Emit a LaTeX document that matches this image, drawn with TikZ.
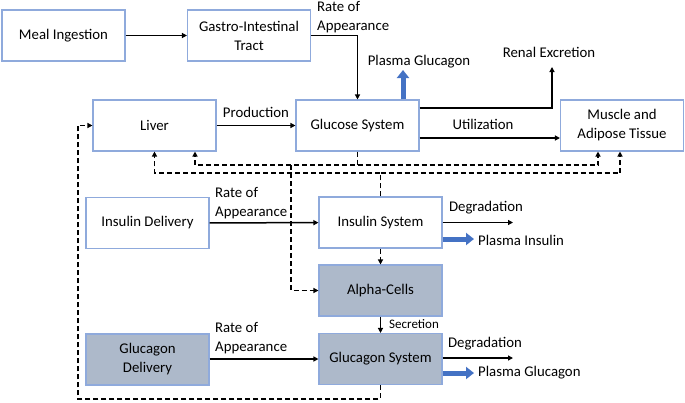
\documentclass[tikz,border=0pt]{standalone}
\usepackage{fontspec}
\setmainfont{Carlito}
\usepackage{tikz}
\usetikzlibrary{arrows.meta}
\definecolor{boxline}{HTML}{8FAADC}
\definecolor{boxgray}{HTML}{ADB9CA}
\definecolor{plasmablue}{HTML}{4472C4}
\tikzstyle{block}=[draw=boxline, line width=1.1pt, fill=white, minimum width=123pt, minimum height=51pt, inner sep=0pt, align=center, font=\fontsize{14.8}{19}\selectfont]
\tikzstyle{gblock}=[block, fill=boxgray]
\tikzstyle{lbl}=[inner sep=0pt, align=left, font=\fontsize{14.8}{19}\selectfont]
\tikzstyle{flow}=[line width=1.5pt, -{Triangle[length=5pt,width=5pt]}]
\tikzstyle{fb}=[flow, dash pattern=on 5pt off 3pt]
\tikzstyle{plasma}=[draw=plasmablue, line width=5pt, -{Triangle[length=8pt,width=12pt]}]

\begin{document}
\begin{tikzpicture}[x=1pt, y=-1pt]
        \useasboundingbox (0,0) rectangle (685,402);
        \node[block]  (meal)    at (63.5, 35.5)  {Meal Ingestion};
        \node[block]  (gi)      at (249, 35.5)   {Gastro-Intestinal\\Tract};
        \node[block]  (liver)   at (154.5, 125.5) {Liver};
        \node[block]  (glucose) at (357.5, 125.5) {Glucose System};
        \node[block]  (muscle)  at (622, 125.5)  {Muscle and\\Adipose Tissue};
        \node[block]  (insdel)  at (147.5, 223)  {Insulin Delivery};
        \node[block]  (inssys)  at (380.5, 222.5) {Insulin System};
        \node[gblock] (alpha)   at (380.5, 290.5) {Alpha-Cells};
        \node[gblock] (glcdel)  at (147.5, 359.5) {Glucagon\\Delivery};
        \node[gblock] (glcsys)  at (380.5, 359)  {Glucagon System};
        \coordinate (pgluc) at (403, 70);
        \coordinate (renal) at (552, 67);
        \coordinate (insdeg) at (513, 222.5);
        \coordinate (insplasma) at (474, 239);
        \coordinate (glcdeg) at (513, 358);
        \coordinate (glcplasma) at (474, 373);
        \coordinate (gdn) at (357.5, 165);
        \coordinate (adn) at (291, 165);
        \coordinate (iup) at (380.5, 173);
        \coordinate (loop) at (78, 399);
        \draw[flow] (meal) -- (gi);
        \draw[flow] (gi.east) -| (glucose.north);
        \draw[flow] (liver) -- (glucose);
        \draw[flow] ([yshift=17.5pt]glucose.east) -| (renal);
        \draw[flow] ([yshift=-12.5pt]glucose.east) -- ([yshift=-12.5pt]muscle.west);
        \draw[plasma] (glucose.north -| pgluc) -- (pgluc);
        \draw[flow] (insdel) -- (inssys);
        \draw[flow] (inssys.east) -- (insdeg);
        \draw[plasma] (inssys.east |- insplasma) -- (insplasma);
        \draw[flow] (alpha) -- (glcsys);
        \draw[flow] (glcdel.east |- glcsys.west) -- (glcsys.west);
        \draw[flow] (glcsys.east |- glcdeg) -- (glcdeg);
        \draw[plasma] (glcsys.east |- glcplasma) -- (glcplasma);
        \draw[fb] (glucose.south) -- (gdn) -| ([xshift=40.5pt]liver.south);
        \draw[fb] (gdn) -| ([xshift=-24pt]muscle.south);
        \draw[fb] (adn) |- (alpha.west);
        \draw[fb] (inssys.north) -- (iup) -| (liver.south);
        \draw[fb] (iup) -| ([xshift=-2pt]muscle.south);
        \draw[fb] (inssys) -- (alpha);
        \draw[fb] (glcsys.south) |- (loop) |- (liver.west);
        \node[lbl, anchor=west] (lra)  at (317, 17)   {Rate of\\Appearance};
        \node[lbl] (lprod)  at (256, 112)  {Production};
        \node[lbl] (lpg)    at (419, 62)   {Plasma Glucagon};
        \node[lbl] (lrenal) at (549, 52)   {Renal Excretion};
        \node[lbl] (lutil)  at (483, 124)  {Utilization};
        \node[lbl, anchor=west] (lira) at (215, 203) {Rate of\\Appearance};
        \node[lbl] (lideg)  at (486, 208)  {Degradation};
        \node[lbl, anchor=west] (lipl) at (478, 240) {Plasma Insulin};
        \node[lbl, anchor=west, font=\fontsize{13}{16}\selectfont] (lsec) at (389, 324) {Secretion};
        \node[lbl, anchor=west] (lgra) at (215, 338) {Rate of\\Appearance};
        \node[lbl] (lgdeg)  at (485, 344)  {Degradation};
        \node[lbl, anchor=west] (lgpl) at (478, 373) {Plasma Glucagon};
    \end{tikzpicture}
\end{document}
